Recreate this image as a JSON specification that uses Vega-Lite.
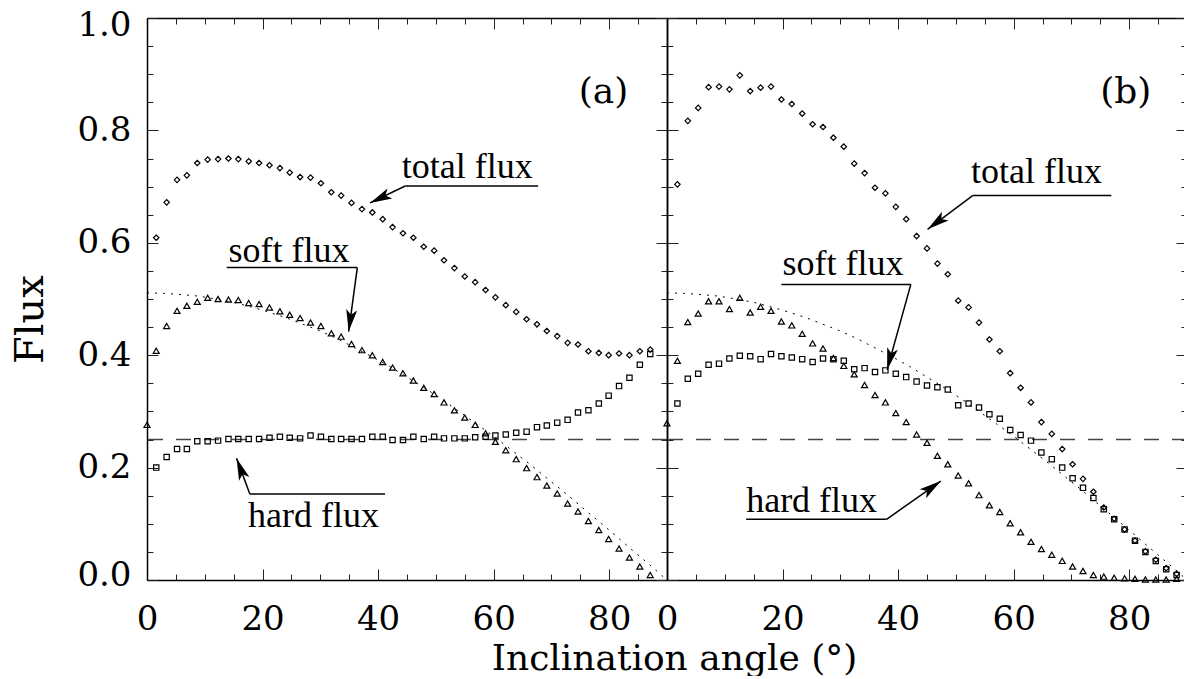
{
  "$schema": "https://vega.github.io/schema/vega-lite/v6.json",
  "background": "white",
  "padding": {"left": 10, "top": 8, "right": 0, "bottom": 0},
  "spacing": 0,
  "bounds": "flush",
  "config": {
    "view": {"stroke": null},
    "axis": {
      "grid": false,
      "domainColor": "black",
      "domainWidth": 1.5,
      "tickColor": "#222",
      "tickWidth": 1,
      "labelFont": "DejaVu Serif",
      "labelFontSize": 34,
      "labelColor": "black",
      "labelFlush": false,
      "labelOverlap": false,
      "titleFont": "DejaVu Serif",
      "titleFontWeight": "normal",
      "titleColor": "black"
    }
  },
  "datasets": {
    "a": [
      {"angle": 0, "soft": 0.276},
      {"angle": 1.6, "total": 0.609, "soft": 0.408, "hard": 0.200},
      {"angle": 3.4, "total": 0.672, "soft": 0.452, "hard": 0.219},
      {"angle": 5.2, "total": 0.712, "soft": 0.479, "hard": 0.233},
      {"angle": 6.9, "total": 0.720, "soft": 0.488, "hard": 0.233},
      {"angle": 8.7, "total": 0.742, "soft": 0.495, "hard": 0.247},
      {"angle": 10.5, "total": 0.748, "soft": 0.502, "hard": 0.247},
      {"angle": 12.3, "total": 0.749, "soft": 0.500, "hard": 0.248},
      {"angle": 14.1, "total": 0.750, "soft": 0.499, "hard": 0.251},
      {"angle": 15.8, "total": 0.749, "soft": 0.498, "hard": 0.251},
      {"angle": 17.6, "total": 0.745, "soft": 0.493, "hard": 0.251},
      {"angle": 19.4, "total": 0.742, "soft": 0.491, "hard": 0.251},
      {"angle": 21.2, "total": 0.738, "soft": 0.485, "hard": 0.253},
      {"angle": 23.0, "total": 0.733, "soft": 0.478, "hard": 0.255},
      {"angle": 24.7, "total": 0.725, "soft": 0.472, "hard": 0.253},
      {"angle": 26.5, "total": 0.717, "soft": 0.466, "hard": 0.252},
      {"angle": 28.3, "total": 0.716, "soft": 0.458, "hard": 0.257},
      {"angle": 30.1, "total": 0.706, "soft": 0.452, "hard": 0.255},
      {"angle": 31.9, "total": 0.690, "soft": 0.439, "hard": 0.251},
      {"angle": 33.6, "total": 0.684, "soft": 0.433, "hard": 0.251},
      {"angle": 35.4, "total": 0.671, "soft": 0.420, "hard": 0.251},
      {"angle": 37.2, "total": 0.660, "soft": 0.409, "hard": 0.251},
      {"angle": 39.0, "total": 0.654, "soft": 0.400, "hard": 0.255},
      {"angle": 40.8, "total": 0.642, "soft": 0.388, "hard": 0.255},
      {"angle": 42.5, "total": 0.628, "soft": 0.378, "hard": 0.249},
      {"angle": 44.3, "total": 0.617, "soft": 0.368, "hard": 0.249},
      {"angle": 46.1, "total": 0.609, "soft": 0.355, "hard": 0.255},
      {"angle": 47.9, "total": 0.593, "soft": 0.342, "hard": 0.251},
      {"angle": 49.7, "total": 0.586, "soft": 0.331, "hard": 0.255},
      {"angle": 51.4, "total": 0.569, "soft": 0.316, "hard": 0.252},
      {"angle": 53.2, "total": 0.555, "soft": 0.302, "hard": 0.252},
      {"angle": 55.0, "total": 0.540, "soft": 0.289, "hard": 0.252},
      {"angle": 56.8, "total": 0.530, "soft": 0.276, "hard": 0.254},
      {"angle": 58.6, "total": 0.516, "soft": 0.261, "hard": 0.255},
      {"angle": 60.3, "total": 0.503, "soft": 0.246, "hard": 0.257},
      {"angle": 62.1, "total": 0.489, "soft": 0.231, "hard": 0.259},
      {"angle": 63.9, "total": 0.477, "soft": 0.215, "hard": 0.262},
      {"angle": 65.7, "total": 0.464, "soft": 0.199, "hard": 0.264},
      {"angle": 67.5, "total": 0.455, "soft": 0.183, "hard": 0.272},
      {"angle": 69.2, "total": 0.443, "soft": 0.168, "hard": 0.275},
      {"angle": 71.0, "total": 0.434, "soft": 0.154, "hard": 0.280},
      {"angle": 72.8, "total": 0.422, "soft": 0.136, "hard": 0.285},
      {"angle": 74.6, "total": 0.419, "soft": 0.122, "hard": 0.298},
      {"angle": 76.4, "total": 0.407, "soft": 0.105, "hard": 0.302},
      {"angle": 78.2, "total": 0.404, "soft": 0.089, "hard": 0.314},
      {"angle": 79.9, "total": 0.400, "soft": 0.073, "hard": 0.328},
      {"angle": 81.7, "total": 0.403, "soft": 0.056, "hard": 0.345},
      {"angle": 83.5, "total": 0.400, "soft": 0.040, "hard": 0.360},
      {"angle": 85.3, "total": 0.407, "soft": 0.024, "hard": 0.383},
      {"angle": 87.1, "total": 0.410, "soft": 0.009, "hard": 0.402}
    ],
    "b": [
      {"angle": 0, "soft": 0.279},
      {"angle": 1.8, "total": 0.704, "soft": 0.390, "hard": 0.314},
      {"angle": 3.6, "total": 0.817, "soft": 0.459, "hard": 0.358},
      {"angle": 5.4, "total": 0.840, "soft": 0.474, "hard": 0.367},
      {"angle": 7.2, "total": 0.877, "soft": 0.496, "hard": 0.383},
      {"angle": 9.0, "total": 0.878, "soft": 0.496, "hard": 0.385},
      {"angle": 10.8, "total": 0.873, "soft": 0.482, "hard": 0.394},
      {"angle": 12.6, "total": 0.898, "soft": 0.502, "hard": 0.399},
      {"angle": 14.4, "total": 0.870, "soft": 0.476, "hard": 0.398},
      {"angle": 16.2, "total": 0.876, "soft": 0.486, "hard": 0.393},
      {"angle": 18.0, "total": 0.878, "soft": 0.479, "hard": 0.402},
      {"angle": 19.8, "total": 0.855, "soft": 0.460, "hard": 0.398},
      {"angle": 21.6, "total": 0.847, "soft": 0.453, "hard": 0.396},
      {"angle": 23.4, "total": 0.830, "soft": 0.438, "hard": 0.393},
      {"angle": 25.2, "total": 0.811, "soft": 0.421, "hard": 0.388},
      {"angle": 27.0, "total": 0.806, "soft": 0.412, "hard": 0.394},
      {"angle": 28.8, "total": 0.787, "soft": 0.395, "hard": 0.393},
      {"angle": 30.6, "total": 0.771, "soft": 0.381, "hard": 0.390},
      {"angle": 32.4, "total": 0.741, "soft": 0.366, "hard": 0.375},
      {"angle": 34.2, "total": 0.724, "soft": 0.347, "hard": 0.377},
      {"angle": 36.0, "total": 0.698, "soft": 0.329, "hard": 0.370},
      {"angle": 37.8, "total": 0.688, "soft": 0.316, "hard": 0.373},
      {"angle": 39.6, "total": 0.664, "soft": 0.297, "hard": 0.367},
      {"angle": 41.4, "total": 0.642, "soft": 0.281, "hard": 0.361},
      {"angle": 43.2, "total": 0.612, "soft": 0.259, "hard": 0.353},
      {"angle": 45.0, "total": 0.590, "soft": 0.244, "hard": 0.346},
      {"angle": 46.8, "total": 0.563, "soft": 0.221, "hard": 0.343},
      {"angle": 48.6, "total": 0.544, "soft": 0.206, "hard": 0.339},
      {"angle": 50.4, "total": 0.497, "soft": 0.186, "hard": 0.311},
      {"angle": 52.2, "total": 0.485, "soft": 0.172, "hard": 0.314},
      {"angle": 54.0, "total": 0.458, "soft": 0.151, "hard": 0.307},
      {"angle": 55.8, "total": 0.428, "soft": 0.133, "hard": 0.295},
      {"angle": 57.6, "total": 0.407, "soft": 0.121, "hard": 0.287},
      {"angle": 59.4, "total": 0.368, "soft": 0.101, "hard": 0.267},
      {"angle": 61.2, "total": 0.342, "soft": 0.085, "hard": 0.258},
      {"angle": 63.0, "total": 0.316, "soft": 0.068, "hard": 0.248},
      {"angle": 64.8, "total": 0.281, "soft": 0.055, "hard": 0.227},
      {"angle": 66.6, "total": 0.260, "soft": 0.045, "hard": 0.215},
      {"angle": 68.4, "total": 0.233, "soft": 0.034, "hard": 0.200},
      {"angle": 70.2, "total": 0.206, "soft": 0.024, "hard": 0.181},
      {"angle": 72.0, "total": 0.180, "soft": 0.016, "hard": 0.164},
      {"angle": 73.8, "total": 0.157, "soft": 0.009, "hard": 0.146},
      {"angle": 75.6, "total": 0.129, "soft": 0.006, "hard": 0.126},
      {"angle": 77.4, "total": 0.109, "soft": 0.004, "hard": 0.108},
      {"angle": 79.2, "total": 0.090, "soft": 0.003, "hard": 0.090},
      {"angle": 81.0, "total": 0.070, "soft": 0.002, "hard": 0.070},
      {"angle": 82.8, "total": 0.051, "soft": 0.001, "hard": 0.050},
      {"angle": 84.6, "total": 0.036, "soft": 0.001, "hard": 0.034},
      {"angle": 86.4, "total": 0.021, "soft": 0.001, "hard": 0.019},
      {"angle": 88.2, "total": 0.011, "soft": 0.002, "hard": 0.009}
    ],
    "model": [
      {"angle": 0, "flux": 0.511}, {"angle": 3, "flux": 0.510}, {"angle": 6, "flux": 0.508},
      {"angle": 9, "flux": 0.505}, {"angle": 12, "flux": 0.500}, {"angle": 15, "flux": 0.494},
      {"angle": 18, "flux": 0.486}, {"angle": 21, "flux": 0.477}, {"angle": 24, "flux": 0.467},
      {"angle": 27, "flux": 0.455}, {"angle": 30, "flux": 0.443}, {"angle": 33, "flux": 0.429},
      {"angle": 36, "flux": 0.413}, {"angle": 39, "flux": 0.397}, {"angle": 42, "flux": 0.380},
      {"angle": 45, "flux": 0.361}, {"angle": 48, "flux": 0.342}, {"angle": 51, "flux": 0.322},
      {"angle": 54, "flux": 0.300}, {"angle": 57, "flux": 0.278}, {"angle": 60, "flux": 0.256},
      {"angle": 63, "flux": 0.232}, {"angle": 66, "flux": 0.208}, {"angle": 69, "flux": 0.183},
      {"angle": 72, "flux": 0.158}, {"angle": 75, "flux": 0.132}, {"angle": 78, "flux": 0.106},
      {"angle": 81, "flux": 0.080}, {"angle": 84, "flux": 0.053}, {"angle": 87, "flux": 0.027},
      {"angle": 90, "flux": 0.0}
    ],
    "ref": [{"flux": 0.25}],
    "notes": [
      {"panel": "a", "label": "total flux", "angle": 44.1, "flux": 0.716},
      {"panel": "a", "label": "soft flux", "angle": 14.1, "flux": 0.566},
      {"panel": "a", "label": "hard flux", "angle": 17.5, "flux": 0.095},
      {"panel": "b", "label": "total flux", "angle": 52.6, "flux": 0.706},
      {"panel": "b", "label": "soft flux", "angle": 20.0, "flux": 0.543},
      {"panel": "b", "label": "hard flux", "angle": 13.7, "flux": 0.1215}
    ],
    "tags": [
      {"panel": "a", "label": "(a)", "angle": 79.0, "flux": 0.868},
      {"panel": "b", "label": "(b)", "angle": 79.4, "flux": 0.868}
    ],
    "leaders": [
      {"panel": "a", "angle": 44.7, "flux": 0.701, "angle2": 67.7, "flux2": 0.701},
      {"panel": "a", "angle": 44.7, "flux": 0.701, "angle2": 38.6, "flux2": 0.671},
      {"panel": "a", "angle": 13.8, "flux": 0.556, "angle2": 36.4, "flux2": 0.556},
      {"panel": "a", "angle": 36.4, "flux": 0.556, "angle2": 34.9, "flux2": 0.442},
      {"panel": "a", "angle": 17.8, "flux": 0.153, "angle2": 41.2, "flux2": 0.153},
      {"panel": "a", "angle": 17.8, "flux": 0.153, "angle2": 15.5, "flux2": 0.2165},
      {"panel": "b", "angle": 52.9, "flux": 0.684, "angle2": 76.9, "flux2": 0.684},
      {"panel": "b", "angle": 52.9, "flux": 0.684, "angle2": 45.1, "flux2": 0.624},
      {"panel": "b", "angle": 19.8, "flux": 0.526, "angle2": 42.2, "flux2": 0.526},
      {"panel": "b", "angle": 42.2, "flux": 0.526, "angle2": 38.1, "flux2": 0.374},
      {"panel": "b", "angle": 13.7, "flux": 0.108, "angle2": 38.0, "flux2": 0.108},
      {"panel": "b", "angle": 38.0, "flux": 0.108, "angle2": 47.4, "flux2": 0.176}
    ],
    "arrows": [
      {"panel": "a", "angle": 38.6, "flux": 0.671, "heading": 244.5},
      {"panel": "a", "angle": 34.9, "flux": 0.442, "heading": 188},
      {"panel": "a", "angle": 15.5, "flux": 0.2165, "heading": 339.6},
      {"panel": "b", "angle": 45.1, "flux": 0.624, "heading": 233.3},
      {"panel": "b", "angle": 38.1, "flux": 0.374, "heading": 194.2},
      {"panel": "b", "angle": 47.4, "flux": 0.176, "heading": 54.7}
    ]
  },
  "hconcat": [
    {
      "width": 520,
      "height": 562,
      "resolve": {"axis": {"x": "independent", "y": "independent"}},
      "layer": [
        {
          "data": {"name": "ref"},
          "mark": {"type": "rule", "stroke": "#444", "strokeWidth": 1.5, "strokeDash": [15, 13]},
          "encoding": {
            "y": {"field": "flux", "type": "quantitative", "scale": {"domain": [0, 1], "nice": false, "zero": false}, "axis": null}
          }
        },
        {
          "data": {"name": "model"},
          "mark": {"type": "line", "stroke": "black", "strokeWidth": 1, "strokeDash": [2, 6]},
          "encoding": {
            "x": {"field": "angle", "type": "quantitative", "scale": {"domain": [0, 90], "nice": false, "zero": false}, "axis": null},
            "y": {"field": "flux", "type": "quantitative", "scale": {"domain": [0, 1], "nice": false, "zero": false}, "axis": null}
          }
        },
        {
          "data": {"name": "a"},
          "mark": {"type": "point", "shape": "diamond", "filled": false, "stroke": "black", "strokeWidth": 1.2, "size": 30, "opacity": 1},
          "encoding": {
            "x": {"field": "angle", "type": "quantitative", "scale": {"domain": [0, 90], "nice": false, "zero": false},
              "axis": {
                "orient": "bottom",
                "values": [0,5,10,15,20,25,30,35,40,45,50,55,60,65,70,75,80,85,90],
                "tickSize": {"condition": {"test": "datum.value % 20 === 0", "value": -11}, "value": -6},
                "labelExpr": "datum.value % 20 === 0 ? '' + datum.value : ''",
                "labelPadding": 33,
                "labelBaseline": "top",
                "labelAlign": "center",
                "title": "Inclination angle (°)",
                "titleFontSize": 36,
                "titleX": 527,
                "titleY": 89,
                "titleAlign": "center",
                "titleBaseline": "alphabetic",
                "titleAngle": 0
              }
            },
            "y": {"field": "total", "type": "quantitative", "scale": {"domain": [0, 1], "nice": false, "zero": false},
              "axis": {
                "orient": "left",
                "values": [0,0.05,0.1,0.15,0.2,0.25,0.3,0.35,0.4,0.45,0.5,0.55,0.6,0.65,0.7,0.75,0.8,0.85,0.9,0.95,1],
                "tickSize": {"condition": {"test": "abs(datum.value*5 - round(datum.value*5)) < 0.01", "value": -11}, "value": -6},
                "labelExpr": "abs(datum.value*5 - round(datum.value*5)) < 0.01 ? format(datum.value, '.1f') : ''",
                "labelOffset": {"condition": [{"test": "datum.value > 0.99", "value": 7}, {"test": "datum.value < 0.01", "value": -5}], "value": 0},
                "labelPadding": 27,
                "labelAlign": "right",
                "labelBaseline": "middle",
                "title": "Flux",
                "titleFontSize": 40,
                "titleX": -105,
                "titleY": 301,
                "titleAlign": "center",
                "titleBaseline": "alphabetic",
                "titleAngle": -90
              }
            }
          }
        },
        {
          "data": {"name": "a"},
          "mark": {"type": "point", "shape": "triangle-up", "filled": false, "stroke": "black", "strokeWidth": 1.2, "size": 36, "opacity": 1},
          "encoding": {
            "x": {"field": "angle", "type": "quantitative", "scale": {"domain": [0, 90], "nice": false, "zero": false},
              "axis": {
                "orient": "top",
                "values": [0,5,10,15,20,25,30,35,40,45,50,55,60,65,70,75,80,85,90],
                "tickSize": {"condition": {"test": "datum.value % 20 === 0", "value": -11}, "value": -6},
                "labels": false,
                "title": null
              }
            },
            "y": {"field": "soft", "type": "quantitative", "scale": {"domain": [0, 1], "nice": false, "zero": false},
              "axis": {
                "orient": "right",
                "values": [0,0.05,0.1,0.15,0.2,0.25,0.3,0.35,0.4,0.45,0.5,0.55,0.6,0.65,0.7,0.75,0.8,0.85,0.9,0.95,1],
                "tickSize": {"condition": {"test": "abs(datum.value*5 - round(datum.value*5)) < 0.01", "value": -11}, "value": -6},
                "labels": false,
                "title": null
              }
            }
          }
        },
        {
          "data": {"name": "a"},
          "mark": {"type": "point", "shape": "square", "filled": false, "stroke": "black", "strokeWidth": 1.2, "size": 28, "opacity": 1},
          "encoding": {
            "x": {"field": "angle", "type": "quantitative", "scale": {"domain": [0, 90], "nice": false, "zero": false}, "axis": null},
            "y": {"field": "hard", "type": "quantitative", "scale": {"domain": [0, 1], "nice": false, "zero": false}, "axis": null}
          }
        },
        {
          "data": {"name": "leaders"},
          "transform": [{"filter": "datum.panel === 'a'"}],
          "mark": {"type": "rule", "stroke": "black", "strokeWidth": 1.5},
          "encoding": {
            "x": {"field": "angle", "type": "quantitative", "scale": {"domain": [0, 90], "nice": false, "zero": false}, "axis": null},
            "y": {"field": "flux", "type": "quantitative", "scale": {"domain": [0, 1], "nice": false, "zero": false}, "axis": null},
            "x2": {"field": "angle2"},
            "y2": {"field": "flux2"}
          }
        },
        {
          "data": {"name": "arrows"},
          "transform": [{"filter": "datum.panel === 'a'"}],
          "mark": {"type": "point", "shape": "M0,0L-0.5,2L0,1.55L0.5,2Z", "filled": true, "fill": "black", "stroke": null, "size": 484, "opacity": 1},
          "encoding": {
            "x": {"field": "angle", "type": "quantitative", "scale": {"domain": [0, 90], "nice": false, "zero": false}, "axis": null},
            "y": {"field": "flux", "type": "quantitative", "scale": {"domain": [0, 1], "nice": false, "zero": false}, "axis": null},
            "angle": {"field": "heading", "type": "quantitative", "scale": null}
          }
        },
        {
          "data": {"name": "notes"},
          "transform": [{"filter": "datum.panel === 'a'"}],
          "mark": {"type": "text", "font": "Liberation Serif", "fontSize": 36, "align": "left", "baseline": "alphabetic", "color": "black"},
          "encoding": {
            "x": {"field": "angle", "type": "quantitative", "scale": {"domain": [0, 90], "nice": false, "zero": false}, "axis": null},
            "y": {"field": "flux", "type": "quantitative", "scale": {"domain": [0, 1], "nice": false, "zero": false}, "axis": null},
            "text": {"field": "label"}
          }
        },
        {
          "data": {"name": "tags"},
          "transform": [{"filter": "datum.panel === 'a'"}],
          "mark": {"type": "text", "font": "DejaVu Serif", "fontSize": 36, "align": "center", "baseline": "middle", "color": "black"},
          "encoding": {
            "x": {"field": "angle", "type": "quantitative", "scale": {"domain": [0, 90], "nice": false, "zero": false}, "axis": null},
            "y": {"field": "flux", "type": "quantitative", "scale": {"domain": [0, 1], "nice": false, "zero": false}, "axis": null},
            "text": {"field": "label"}
          }
        }
      ]
    },
    {
      "width": 520,
      "height": 562,
      "resolve": {"axis": {"x": "independent", "y": "independent"}},
      "layer": [
        {
          "data": {"name": "ref"},
          "mark": {"type": "rule", "stroke": "#444", "strokeWidth": 1.5, "strokeDash": [15, 13]},
          "encoding": {
            "y": {"field": "flux", "type": "quantitative", "scale": {"domain": [0, 1], "nice": false, "zero": false}, "axis": null}
          }
        },
        {
          "data": {"name": "model"},
          "mark": {"type": "line", "stroke": "black", "strokeWidth": 1, "strokeDash": [2, 6]},
          "encoding": {
            "x": {"field": "angle", "type": "quantitative", "scale": {"domain": [0, 90], "nice": false, "zero": false}, "axis": null},
            "y": {"field": "flux", "type": "quantitative", "scale": {"domain": [0, 1], "nice": false, "zero": false}, "axis": null}
          }
        },
        {
          "data": {"name": "b"},
          "mark": {"type": "point", "shape": "diamond", "filled": false, "stroke": "black", "strokeWidth": 1.2, "size": 30, "opacity": 1},
          "encoding": {
            "x": {"field": "angle", "type": "quantitative", "scale": {"domain": [0, 90], "nice": false, "zero": false},
              "axis": {
                "orient": "bottom",
                "values": [0,5,10,15,20,25,30,35,40,45,50,55,60,65,70,75,80,85,90],
                "tickSize": {"condition": {"test": "datum.value % 20 === 0", "value": -11}, "value": -6},
                "labelExpr": "datum.value % 20 === 0 ? '' + datum.value : ''",
                "labelPadding": 33,
                "labelBaseline": "top",
                "labelAlign": "center",
                "title": null
              }
            },
            "y": {"field": "total", "type": "quantitative", "scale": {"domain": [0, 1], "nice": false, "zero": false},
              "axis": {
                "orient": "left",
                "values": [0,0.05,0.1,0.15,0.2,0.25,0.3,0.35,0.4,0.45,0.5,0.55,0.6,0.65,0.7,0.75,0.8,0.85,0.9,0.95,1],
                "tickSize": {"condition": {"test": "abs(datum.value*5 - round(datum.value*5)) < 0.01", "value": -11}, "value": -6},
                "labels": false,
                "title": null
              }
            }
          }
        },
        {
          "data": {"name": "b"},
          "mark": {"type": "point", "shape": "triangle-up", "filled": false, "stroke": "black", "strokeWidth": 1.2, "size": 36, "opacity": 1},
          "encoding": {
            "x": {"field": "angle", "type": "quantitative", "scale": {"domain": [0, 90], "nice": false, "zero": false},
              "axis": {
                "orient": "top",
                "values": [0,5,10,15,20,25,30,35,40,45,50,55,60,65,70,75,80,85,90],
                "tickSize": {"condition": {"test": "datum.value % 20 === 0", "value": -11}, "value": -6},
                "labels": false,
                "title": null
              }
            },
            "y": {"field": "soft", "type": "quantitative", "scale": {"domain": [0, 1], "nice": false, "zero": false},
              "axis": {
                "orient": "right",
                "values": [0,0.05,0.1,0.15,0.2,0.25,0.3,0.35,0.4,0.45,0.5,0.55,0.6,0.65,0.7,0.75,0.8,0.85,0.9,0.95,1],
                "tickSize": {"condition": {"test": "abs(datum.value*5 - round(datum.value*5)) < 0.01", "value": -11}, "value": -6},
                "labels": false,
                "title": null
              }
            }
          }
        },
        {
          "data": {"name": "b"},
          "mark": {"type": "point", "shape": "square", "filled": false, "stroke": "black", "strokeWidth": 1.2, "size": 28, "opacity": 1},
          "encoding": {
            "x": {"field": "angle", "type": "quantitative", "scale": {"domain": [0, 90], "nice": false, "zero": false}, "axis": null},
            "y": {"field": "hard", "type": "quantitative", "scale": {"domain": [0, 1], "nice": false, "zero": false}, "axis": null}
          }
        },
        {
          "data": {"name": "leaders"},
          "transform": [{"filter": "datum.panel === 'b'"}],
          "mark": {"type": "rule", "stroke": "black", "strokeWidth": 1.5},
          "encoding": {
            "x": {"field": "angle", "type": "quantitative", "scale": {"domain": [0, 90], "nice": false, "zero": false}, "axis": null},
            "y": {"field": "flux", "type": "quantitative", "scale": {"domain": [0, 1], "nice": false, "zero": false}, "axis": null},
            "x2": {"field": "angle2"},
            "y2": {"field": "flux2"}
          }
        },
        {
          "data": {"name": "arrows"},
          "transform": [{"filter": "datum.panel === 'b'"}],
          "mark": {"type": "point", "shape": "M0,0L-0.5,2L0,1.55L0.5,2Z", "filled": true, "fill": "black", "stroke": null, "size": 484, "opacity": 1},
          "encoding": {
            "x": {"field": "angle", "type": "quantitative", "scale": {"domain": [0, 90], "nice": false, "zero": false}, "axis": null},
            "y": {"field": "flux", "type": "quantitative", "scale": {"domain": [0, 1], "nice": false, "zero": false}, "axis": null},
            "angle": {"field": "heading", "type": "quantitative", "scale": null}
          }
        },
        {
          "data": {"name": "notes"},
          "transform": [{"filter": "datum.panel === 'b'"}],
          "mark": {"type": "text", "font": "Liberation Serif", "fontSize": 36, "align": "left", "baseline": "alphabetic", "color": "black"},
          "encoding": {
            "x": {"field": "angle", "type": "quantitative", "scale": {"domain": [0, 90], "nice": false, "zero": false}, "axis": null},
            "y": {"field": "flux", "type": "quantitative", "scale": {"domain": [0, 1], "nice": false, "zero": false}, "axis": null},
            "text": {"field": "label"}
          }
        },
        {
          "data": {"name": "tags"},
          "transform": [{"filter": "datum.panel === 'b'"}],
          "mark": {"type": "text", "font": "DejaVu Serif", "fontSize": 36, "align": "center", "baseline": "middle", "color": "black"},
          "encoding": {
            "x": {"field": "angle", "type": "quantitative", "scale": {"domain": [0, 90], "nice": false, "zero": false}, "axis": null},
            "y": {"field": "flux", "type": "quantitative", "scale": {"domain": [0, 1], "nice": false, "zero": false}, "axis": null},
            "text": {"field": "label"}
          }
        }
      ]
    }
  ]
}
